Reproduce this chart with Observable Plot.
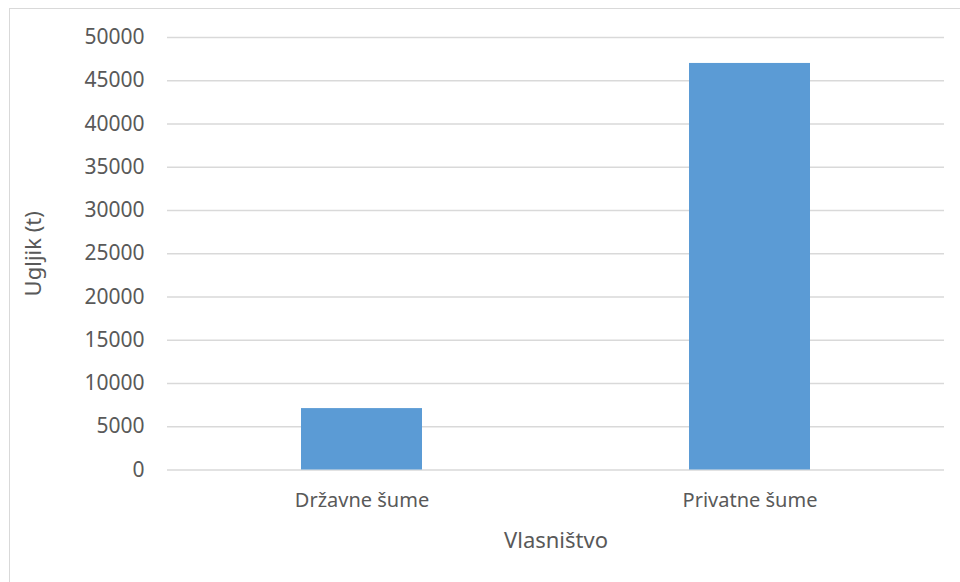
<!DOCTYPE html>
<html>
<head>
<meta charset="utf-8">
<script src="https://cdn.jsdelivr.net/npm/d3@7"></script>
<script src="https://cdn.jsdelivr.net/npm/@observablehq/plot@0.6"></script>
<style>
  html, body { margin: 0; padding: 0; background: #fff; }
  #wrap { position: relative; width: 960px; height: 582px; overflow: hidden; }
  #frame { position: absolute; left: 9px; top: 8px; width: 980px; height: 600px; border: 1.5px solid #D9D9D9; box-sizing: border-box; pointer-events: none; }
  #chart { position: absolute; left: 0; top: 0; }
</style>
</head>
<body>
<div id="wrap"><div id="chart"></div><div id="frame"></div></div>
<script>
const categories = ["Državne šume", "Privatne šume"];
const carbon = [7100, 47000];
const yTicks = [0, 5000, 10000, 15000, 20000, 25000, 30000, 35000, 40000, 45000, 50000];
const xTitle = "Vlasništvo";
const yTitle = "Ugljik (t)";

const data = categories.map((c, i) => ({ category: c, value: carbon[i] }));

const textColor = "#595959";
const chart = Plot.plot({
  width: 960,
  height: 582,
  marginLeft: 167,
  marginRight: 16,
  marginTop: 37,
  marginBottom: 112.5,
  style: { fontFamily: "'Noto Sans', sans-serif", fontSize: "20px", color: textColor, background: "transparent" },
  x: { domain: categories, paddingInner: 0.687, paddingOuter: 0.3435, label: null },
  y: { domain: [0, 50000], label: null },
  marks: [
    Plot.gridY(yTicks, { stroke: "#D9D9D9", strokeOpacity: 1, strokeWidth: 1.3 }),
    Plot.barY(data, { x: "category", y: "value", fill: "#5B9BD5" }),
    Plot.axisY(yTicks, { tickSize: 0, tickPadding: 23, tickFormat: d => String(d), fill: textColor, fontSize: 21, label: null }),
    Plot.axisX({ tickSize: 0, tickPadding: 23, fill: textColor, fontSize: 20, label: null }),
    Plot.text([xTitle], { frameAnchor: "bottom", dy: 78, text: d => d, fill: textColor, fontSize: 22 }),
    Plot.text([yTitle], { frameAnchor: "left", textAnchor: "middle", dx: -134, rotate: -90, text: d => d, fill: textColor, fontSize: 22 })
  ]
});
document.getElementById("chart").appendChild(chart);
</script>
</body>
</html>
